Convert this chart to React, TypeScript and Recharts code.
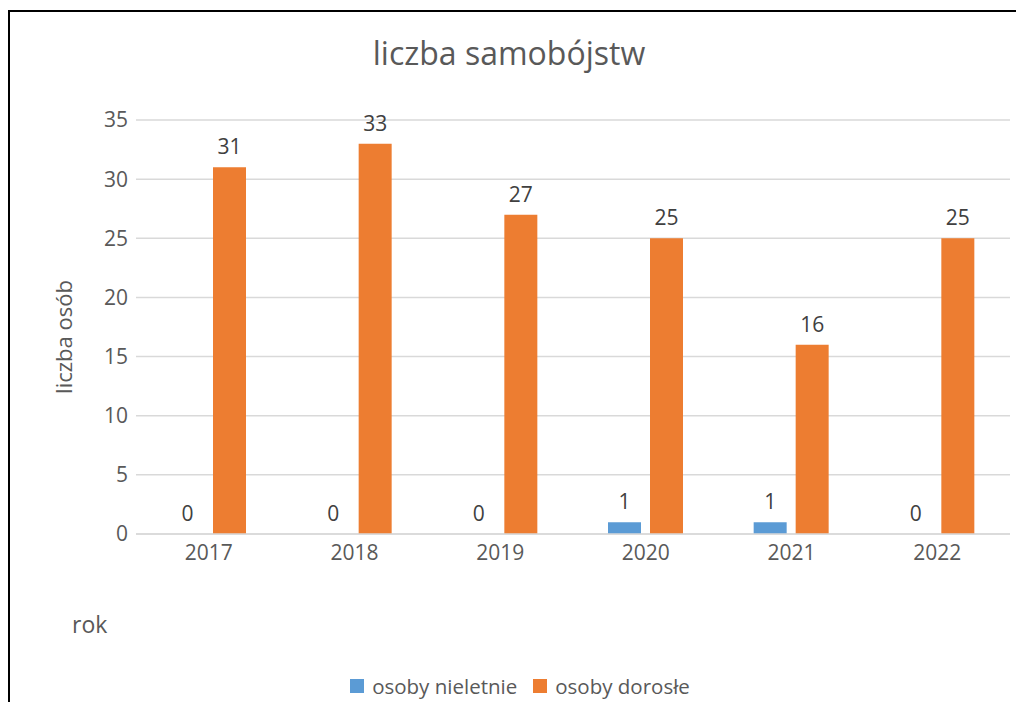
import React from 'react';
import { BarChart, Bar, XAxis, YAxis, CartesianGrid, Legend, LabelList, Label } from 'recharts';

const years = ['2017', '2018', '2019', '2020', '2021', '2022'];
const minors = [0, 0, 0, 1, 1, 0];
const adults = [31, 33, 27, 25, 16, 25];
const yTicks = [0, 5, 10, 15, 20, 25, 30, 35];
const seriesNames = ['osoby nieletnie', 'osoby dorosłe'];
const titleText = 'liczba samobójstw';
const yAxisTitle = 'liczba osób';
const xAxisTitle = 'rok';

const data = years.map((y, i) => ({ year: y, minors: minors[i], adults: adults[i] }));

const FONT = '"Open Sans", "Noto Sans", sans-serif';
const BLUE = '#5B9BD5';
const ORANGE = '#ED7D31';
const GRID = '#D9D9D9';
const TICK = '#595959';
const VAL = '#404040';
const BAR_SIZE = 33;
const BAR_GAP = 9;

const renderLegend = (props: any) => {
  const payload = [...(props.payload || [])].sort(
    (a: any, b: any) => seriesNames.indexOf(a.value) - seriesNames.indexOf(b.value)
  );
  return (
    <div style={{ display: 'flex', justifyContent: 'center', alignItems: 'center', fontFamily: FONT, fontSize: 20.5, color: TICK, paddingLeft: 24, lineHeight: '26px' }}>
      {payload.map((entry: any, i: number) => (
        <div key={i} style={{ display: 'flex', alignItems: 'center', marginRight: i === 0 ? 16 : 0 }}>
          <span style={{ display: 'inline-block', width: 14, height: 14, background: entry.color, marginRight: 8 }} />
          <span>{entry.value}</span>
        </div>
      ))}
    </div>
  );
};

const minorsLabel = (p: any) => {
  const { x, y, width, value } = p;
  if (value === 0) return null;
  return (
    <text x={Number(x) + Number(width) / 2} y={Number(y) - 13} textAnchor="middle" fill={VAL} fontSize={21} fontFamily={FONT}>
      {value}
    </text>
  );
};

// Adults label; also draws zero-valued minors labels (zero-height bars get no label entry)
const adultsLabel = (p: any) => {
  const { x, y, width, height, value } = p;
  let idx = typeof p.index === 'number' ? p.index : -1;
  if (idx < 0 && p.payload) idx = years.indexOf(p.payload.year);
  const base = Number(y) + Number(height);
  const minorVal = idx >= 0 ? minors[idx] : null;
  return (
    <g>
      <text x={Number(x) + Number(width) / 2} y={Number(y) - 13} textAnchor="middle" fill={VAL} fontSize={21} fontFamily={FONT}>
        {value}
      </text>
      {minorVal === 0 && (
        <text x={Number(x) - BAR_GAP - Number(width) / 2} y={base - 13} textAnchor="middle" fill={VAL} fontSize={21} fontFamily={FONT}>
          {minorVal}
        </text>
      )}
    </g>
  );
};

export default function App() {
  return (
    <div style={{ position: 'absolute', left: 0, top: 0, width: 1016, height: 702, background: '#fff', overflow: 'hidden' }}>
      <div style={{ position: 'absolute', left: 8, top: 10, width: 1100, height: 800, borderLeft: '2px solid #000', borderTop: '2px solid #000' }} />
      <div style={{ position: 'absolute', left: 0, top: 0 }}>
        <BarChart
          width={1016}
          height={702}
          data={data}
          margin={{ top: 120, right: 6, left: 76, bottom: 112 }}
          barSize={BAR_SIZE}
          barGap={BAR_GAP}
        >
          <text x={509} y={65} textAnchor="middle" fontFamily={FONT} fontSize={32} fill={TICK}>
            {titleText}
          </text>
          <CartesianGrid vertical={false} stroke={GRID} strokeWidth={1.5} />
          <XAxis
            dataKey="year"
            axisLine={{ stroke: GRID, strokeWidth: 1.5 }}
            tickLine={false}
            tickSize={0}
            tickMargin={11}
            tick={{ fill: TICK, fontSize: 21, fontFamily: FONT }}
          >
            <Label
              content={(p: any) => (
                <text x={p.viewBox.x - 64} y={p.viewBox.y + 99} fontFamily={FONT} fontSize={23} fill={TICK}>
                  {xAxisTitle}
                </text>
              )}
            />
          </XAxis>
          <YAxis
            width={60}
            domain={[0, 35]}
            ticks={yTicks}
            axisLine={false}
            tickLine={false}
            tickSize={0}
            tickMargin={8}
            tick={{ fill: TICK, fontSize: 21, fontFamily: FONT }}
          >
            <Label
              content={(p: any) => {
                const cx = p.viewBox.x - 4;
                const cy = p.viewBox.y + p.viewBox.height / 2 + 10;
                return (
                  <text x={cx} y={cy} transform={`rotate(-90, ${cx}, ${cy})`} textAnchor="middle" fontFamily={FONT} fontSize={22} fill={TICK}>
                    {yAxisTitle}
                  </text>
                );
              }}
            />
          </YAxis>
          <Legend
            verticalAlign="bottom"
            content={renderLegend}
            wrapperStyle={{ top: 673, bottom: 'auto', left: 0, width: 1016 }}
          />
          <Bar dataKey="minors" name={seriesNames[0]} fill={BLUE} isAnimationActive={false}>
            <LabelList dataKey="minors" position="top" content={minorsLabel} />
          </Bar>
          <Bar dataKey="adults" name={seriesNames[1]} fill={ORANGE} isAnimationActive={false}>
            <LabelList dataKey="adults" position="top" content={adultsLabel} />
          </Bar>
        </BarChart>
      </div>
    </div>
  );
}
